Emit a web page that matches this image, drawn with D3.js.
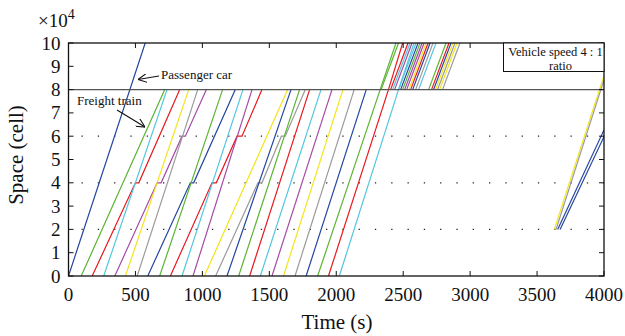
<!DOCTYPE html>
<html><head><meta charset="utf-8">
<script src="https://cdn.jsdelivr.net/npm/d3@7"></script>
<style>body{margin:0;background:#fff}svg{display:block}text{font-family:"Liberation Serif","DejaVu Serif",serif;fill:#111}</style>
</head><body><div id="chart"></div>
<script>
// ---- data (time in s, space in 10^4 cells) ----
const palette = ["#2445a0","#5ab432","#e6191e","#52c6de","#a54aa5","#f3e41a","#9a9a9a"];
const xTicks = [0,500,1000,1500,2000,2500,3000,3500,4000];
const yTicks = [0,1,2,3,4,5,6,7,8,9,10];
const stationLevels = [2,4,6];
const blockLevel = 8;
const passenger = [[0,0],[573,10]];
// freight trajectories from 0 up to the 8x10^4 block
const freightLower = [
  [[95,0],[719,8]],
  [[177,0],[500,4],[525,4],[831,8]],
  [[263,0],[736,8]],
  [[346,0],[662,4],[692,4],[848,6],[873,6],[1030,8]],
  [[425,0],[898,8]],
  [[513,0],[965,8]],
  [[592,0],[910,4],[935,4],[1246,8]],
  [[681,0],[1151,8]],
  [[761,0],[1072,4],[1104,4],[1259,6],[1296,6],[1445,8]],
  [[848,0],[1303,8]],
  [[930,0],[1371,8]],
  [[1015,0],[1637,8]],
  [[1099,0],[1415,4],[1445,4],[1590,6],[1619,6],[1769,8]],
  [[1184,0],[1662,8]],
  [[1271,0],[1726,8]],
  [[1353,0],[1801,8]],
  [[1433,0],[1886,8]],
  [[1520,0],[1968,8]],
  [[1606,0],[2050,8]],
  [[1692,0],[2134,8]],
  [[1775,0],[2224,8]],
  [[1861,0],[2328,8]],
  [[1942,0],[2390,8]],
  [[2023,0],[2465,8]]
];
// leaving the block: time at 8x10^4 and at 10x10^4 (same freight order)
const upperDepart = [2335,2406,2421,2436,2543,2593,2481,2496,2556,2466,2511,2742,2757,2571,2690,2712,2615,2526,2772,2794,2727,2328,2390,2465];
const upperArrive = [2465,2536,2551,2566,2671,2723,2611,2626,2686,2596,2641,2872,2887,2701,2820,2842,2745,2656,2902,2924,2857,2446,2496,2581];
// vehicles entering at 2x10^4 near the end
const lateGroup = [
  {c:5, pts:[[3629,2],[4000,8.6]]},
  {c:6, pts:[[3642,2],[4000,8.42]]},
  {c:0, pts:[[3654,2],[4000,6.27]]},
  {c:0, pts:[[3672,2],[4000,5.98]]}
];

// ---- drawing ----
const W=625,H=336;
const L=68.5,R=604,T=43,B=276;
const svg=d3.select("#chart").append("svg").attr("width",W).attr("height",H);
svg.append("rect").attr("width",W).attr("height",H).attr("fill","#fff");
const x=d3.scaleLinear().domain([0,4000]).range([L,R]);
const y=d3.scaleLinear().domain([0,10]).range([B,T]);
const defs=svg.append("defs");
defs.append("clipPath").attr("id","clip").append("rect")
  .attr("x",L).attr("y",T).attr("width",R-L).attr("height",B-T);
const g=svg.append("g").attr("clip-path","url(#clip)");
const line=d3.line().x(d=>x(d[0])).y(d=>y(d[1]));

// station dotted lines
g.selectAll("line.st").data(stationLevels).join("line")
  .attr("x1",x(0)).attr("x2",x(4000)).attr("y1",d=>y(d)).attr("y2",d=>y(d))
  .attr("stroke","#222").attr("stroke-width",1.3).attr("stroke-dasharray","1.3,15")
  .attr("stroke-dashoffset",-13);

// freight lower
g.selectAll("path.fl").data(freightLower).join("path")
  .attr("d",line).attr("fill","none").attr("stroke-width",1.2)
  .attr("stroke",(d,i)=>palette[(i+1)%7]);
// freight upper
g.selectAll("path.fu").data(upperDepart).join("path")
  .attr("d",(d,i)=>line([[d,blockLevel],[upperArrive[i],10]])).attr("fill","none").attr("stroke-width",1.2)
  .attr("stroke",(d,i)=>palette[(i+1)%7]);
// passenger
g.append("path").attr("d",line(passenger)).attr("fill","none").attr("stroke",palette[0]).attr("stroke-width",1.2);
// late group
g.selectAll("path.lg").data(lateGroup).join("path")
  .attr("d",d=>line(d.pts)).attr("fill","none").attr("stroke-width",1.2)
  .attr("stroke",d=>palette[d.c]);
// block line
svg.append("line").attr("x1",x(0)).attr("x2",x(4000)).attr("y1",y(blockLevel)).attr("y2",y(blockLevel))
  .attr("stroke","#555").attr("stroke-width",1.4);

// frame and ticks
svg.append("rect").attr("x",L).attr("y",T).attr("width",R-L).attr("height",B-T)
  .attr("fill","none").attr("stroke","#111").attr("stroke-width",1.3);
const tk=5;
xTicks.forEach(v=>{
  svg.append("line").attr("x1",x(v)).attr("x2",x(v)).attr("y1",B).attr("y2",B-tk).attr("stroke","#111");
  svg.append("line").attr("x1",x(v)).attr("x2",x(v)).attr("y1",T).attr("y2",T+tk).attr("stroke","#111");
  svg.append("text").attr("x",x(v)).attr("y",B+25).attr("text-anchor","middle").attr("font-size",19).text(v);
});
yTicks.forEach(v=>{
  svg.append("line").attr("x1",L).attr("x2",L+tk).attr("y1",y(v)).attr("y2",y(v)).attr("stroke","#111");
  svg.append("line").attr("x1",R).attr("x2",R-tk).attr("y1",y(v)).attr("y2",y(v)).attr("stroke","#111");
  svg.append("text").attr("x",L-8).attr("y",y(v)+6.5).attr("text-anchor","end").attr("font-size",19).text(v);
});
// multiplier
const m=svg.append("text").attr("x",38).attr("y",27).attr("font-size",19);
m.append("tspan").text("×10");
m.append("tspan").attr("dy",-8).attr("font-size",14).text("4");
// axis titles
svg.append("text").attr("x",337).attr("y",329).attr("text-anchor","middle").attr("font-size",21).text("Time (s)");
svg.append("text").attr("transform","translate(23,155) rotate(-90)").attr("text-anchor","middle").attr("font-size",21).text("Space (cell)");

// legend box
svg.append("rect").attr("x",503.5).attr("y",T).attr("width",R-503.5).attr("height",28.5)
  .attr("fill","#fff").attr("stroke","#111").attr("stroke-width",1);
svg.append("text").attr("x",555.5).attr("y",56).attr("text-anchor","middle").attr("font-size",12.5).text("Vehicle speed 4 : 1");
svg.append("text").attr("x",560.5).attr("y",70).attr("text-anchor","middle").attr("font-size",12.5).text("ratio");

// annotations
defs.append("marker").attr("id","arr").attr("viewBox","0 0 10 10").attr("refX",10).attr("refY",5)
  .attr("markerWidth",9).attr("markerHeight",9).attr("orient","auto-start-reverse").attr("markerUnits","userSpaceOnUse")
  .append("path").attr("d","M0,0 L10,5 L0,10").attr("fill","none").attr("stroke","#111").attr("stroke-width",1.2);
svg.append("text").attr("x",161).attr("y",79).attr("font-size",13).text("Passenger car");
svg.append("line").attr("x1",159).attr("y1",76).attr("x2",138).attr("y2",79.5).attr("stroke","#111").attr("stroke-width",1.1).attr("marker-end","url(#arr)");
svg.append("text").attr("x",77).attr("y",105).attr("font-size",13).text("Freight train");
svg.append("line").attr("x1",117).attr("y1",110).attr("x2",145).attr("y2",127).attr("stroke","#111").attr("stroke-width",1.1).attr("marker-end","url(#arr)");
</script></body></html>
